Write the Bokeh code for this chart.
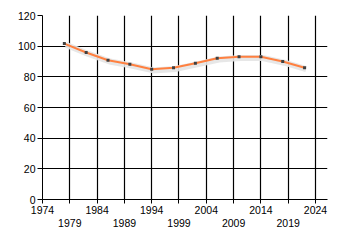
from bokeh.plotting import figure
from bokeh.models import Range1d, LinearAxis, FixedTicker
from bokeh.embed import file_html
from bokeh.resources import INLINE

years = [1978, 1982, 1986, 1990, 1994, 1998, 2002, 2006, 2010, 2014, 2018, 2022]
values = [101.7, 95.9, 90.8, 88.2, 85.0, 85.9, 88.9, 92.1, 93.1, 93.1, 90.0, 85.9]
x_ticks = [1974, 1979, 1984, 1989, 1994, 1999, 2004, 2009, 2014, 2019, 2024]
y_ticks = [0, 20, 40, 60, 80, 100, 120]

FONT = "Liberation Sans"
FS = "10.5px"

p = figure(width=340, height=245, output_backend="svg", toolbar_location=None,
           x_range=Range1d(1974, 2026.2), y_range=Range1d(0, 120),
           x_axis_type=None, y_axis_type=None,
           min_border_left=42, min_border_right=13, min_border_top=15, min_border_bottom=46)
p.outline_line_color = None
p.background_fill_color = "white"
p.border_fill_color = "white"

# y axis
ya = LinearAxis(ticker=FixedTicker(ticks=y_ticks))
ya.major_tick_out = 5
ya.major_tick_in = 0
ya.minor_tick_line_color = None
ya.axis_line_color = "black"
ya.major_tick_line_color = "black"
ya.major_label_text_font = FONT
ya.major_label_text_font_size = FS
ya.major_label_text_color = "black"
ya.major_label_standoff = 2
p.add_layout(ya, "left")

# x axis row 1 (every tick, labels for even decades)
xa = LinearAxis(ticker=FixedTicker(ticks=x_ticks))
xa.major_tick_out = 4
xa.major_tick_in = 0
xa.minor_tick_line_color = None
xa.axis_line_color = "black"
xa.major_tick_line_color = "black"
xa.major_label_overrides = {t: (str(t) if i % 2 == 0 else "") for i, t in enumerate(x_ticks)}
xa.major_label_text_font = FONT
xa.major_label_text_font_size = FS
xa.major_label_text_color = "black"
xa.major_label_standoff = 2
p.add_layout(xa, "below")

# x axis row 2 (staggered labels)
xb = LinearAxis(ticker=FixedTicker(ticks=x_ticks[1::2]))
xb.major_tick_out = 0
xb.major_tick_in = 0
xb.minor_tick_line_color = None
xb.axis_line_color = None
xb.major_tick_line_color = None
xb.major_label_text_font = FONT
xb.major_label_text_font_size = FS
xb.major_label_text_color = "black"
xb.major_label_standoff = 2
p.add_layout(xb, "below")

# grid
from bokeh.models import Grid
p.add_layout(Grid(dimension=0, ticker=FixedTicker(ticks=x_ticks), grid_line_color="black", grid_line_width=1.2))
p.add_layout(Grid(dimension=1, ticker=FixedTicker(ticks=y_ticks), grid_line_color="black", grid_line_width=1.2))

# shadow + line
p.line([y + 0.3 for y in years], [v - 0.8 for v in values], line_color="#e4e4e4", line_width=6, line_alpha=0.9)
p.line(years, values, line_color="#FF8040", line_width=2)
p.scatter(years, values, marker="square", size=3, fill_color="#404040", line_color=None)

open("out.html", "w").write(file_html(p, INLINE))
